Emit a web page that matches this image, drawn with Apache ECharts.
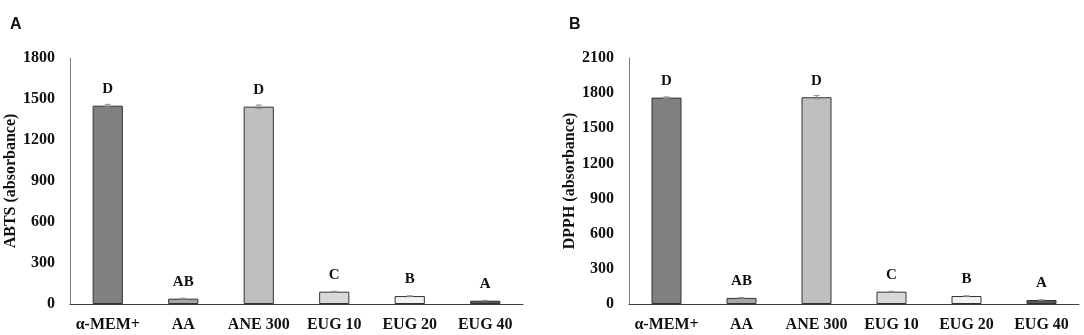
<!DOCTYPE html>
<html>
<head>
  <meta charset="utf-8" />
  <script src="https://cdn.jsdelivr.net/npm/echarts@6/dist/echarts.min.js"></script>
  <style>
    body { margin:0; background:#fff; }
    #main { width:1084px; height:335px; }
  </style>
</head>
<body>
<div id="main"></div>
<script type="text/javascript">
  let groups = ['α-MEM+', 'AA', 'ANE 300', 'EUG 10', 'EUG 20', 'EUG 40']
  let barColors = ['#808080', '#a6a6a6', '#bfbfbf', '#d9d9d9', '#f2f2f2', '#595959']

  let abtsValues = [1451, 39, 1444, 90, 58, 24]
  let abtsErrors = [10, 3, 12, 3, 2, 2]
  let abtsLetters = ['D', 'AB', 'D', 'C', 'B', 'A']

  let dpphValues = [1762, 52, 1765, 105, 68, 34]
  let dpphErrors = [6, 3, 14, 3, 2, 2]
  let dpphLetters = ['D', 'AB', 'D', 'C', 'B', 'A']

  let serif = '"Liberation Serif", "DejaVu Serif", serif'

  let chart = echarts.init(document.getElementById('main'), null, { renderer: 'canvas' })

  function barData(values) {
    return values.map((v, i) => ({
      value: v,
      itemStyle: { color: barColors[i], borderColor: '#333', borderWidth: 1 }
    }))
  }

  function errData(values, errs) {
    return values.map((v, i) => [i, v - errs[i], v + errs[i]])
  }

  function renderErr(params, api) {
    let lo = api.coord([api.value(0), api.value(1)])
    let hi = api.coord([api.value(0), api.value(2)])
    let w = 3
    let st = { stroke: '#8c8c8c', lineWidth: 1 }
    return {
      type: 'group',
      children: [
        { type: 'line', shape: { x1: hi[0], y1: hi[1], x2: lo[0], y2: lo[1] }, style: st },
        { type: 'line', shape: { x1: hi[0] - w, y1: hi[1], x2: hi[0] + w, y2: hi[1] }, style: st },
        { type: 'line', shape: { x1: lo[0] - w, y1: lo[1], x2: lo[0] + w, y2: lo[1] }, style: st }
      ]
    }
  }

  function xAxisOpt(idx) {
    return {
      type: 'category',
      gridIndex: idx,
      data: groups,
      axisTick: { show: false },
      axisLine: { lineStyle: { color: '#404040', width: 1 } },
      axisLabel: { color: '#111', fontFamily: serif, fontWeight: 'bold', fontSize: 16, margin: 13, interval: 0 }
    }
  }

  function yAxisOpt(idx, max, name) {
    return {
      type: 'value',
      gridIndex: idx,
      min: 0,
      max: max,
      interval: 300,
      name: name,
      nameLocation: 'middle',
      nameGap: 50,
      nameTextStyle: { color: '#111', fontFamily: serif, fontWeight: 'bold', fontSize: 16 },
      splitLine: { show: false },
      axisTick: { show: false },
      axisLine: { show: true, lineStyle: { color: '#7f7f7f', width: 1 } },
      axisLabel: { color: '#111', fontFamily: serif, fontWeight: 'bold', fontSize: 16, margin: 15, formatter: (v) => String(v) }
    }
  }

  function labelOpt(letters) {
    return {
      show: true,
      position: 'top',
      distance: 9,
      color: '#111',
      fontFamily: serif,
      fontWeight: 'bold',
      fontSize: 15,
      formatter: (p) => letters[p.dataIndex]
    }
  }

  let option = {
    animation: false,
    title: [
      { text: 'A', left: 5, top: 12, textStyle: { fontFamily: 'Arial, "Liberation Sans", sans-serif', fontWeight: 'bold', fontSize: 16, color: '#111' } },
      { text: 'B', left: 564, top: 12, textStyle: { fontFamily: 'Arial, "Liberation Sans", sans-serif', fontWeight: 'bold', fontSize: 16, color: '#111' } }
    ],
    grid: [
      { left: 70, right: 561, top: 58, bottom: 31 },
      { left: 629, right: 5, top: 58, bottom: 31 }
    ],
    xAxis: [xAxisOpt(0), xAxisOpt(1)],
    yAxis: [yAxisOpt(0, 1800, 'ABTS (absorbance)'), yAxisOpt(1, 2100, 'DPPH (absorbance)')],
    series: [
      {
        type: 'bar', xAxisIndex: 0, yAxisIndex: 0,
        barWidth: '40%',
        data: barData(abtsValues),
        label: labelOpt(abtsLetters)
      },
      {
        type: 'custom', xAxisIndex: 0, yAxisIndex: 0,
        renderItem: renderErr,
        data: errData(abtsValues, abtsErrors),
        z: 5
      },
      {
        type: 'bar', xAxisIndex: 1, yAxisIndex: 1,
        barWidth: '40%',
        data: barData(dpphValues),
        label: labelOpt(dpphLetters)
      },
      {
        type: 'custom', xAxisIndex: 1, yAxisIndex: 1,
        renderItem: renderErr,
        data: errData(dpphValues, dpphErrors),
        z: 5
      }
    ]
  }

  chart.setOption(option)
</script>
</body>
</html>
